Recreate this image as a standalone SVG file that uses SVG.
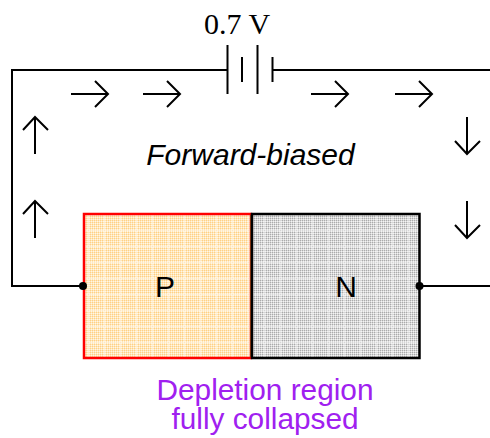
<svg xmlns="http://www.w3.org/2000/svg" width="490" height="438" viewBox="0 0 490 438">
<style>
.w{fill:none;stroke:#000;stroke-width:2}
.a{fill:none;stroke:#000;stroke-width:2}
.s{font-family:"Liberation Sans",Arial,sans-serif}
.l{font-size:30px;text-anchor:middle;fill:#000}
.p{font-size:29.8px;text-anchor:middle;fill:#a020f0}
</style>
<defs>
<pattern id="dot-o" x="0" y="0" width="2" height="2" patternUnits="userSpaceOnUse">
<rect width="2" height="2" fill="#ffe6b8"/>
<rect x="1" y="1" width="1" height="1" fill="#fff6e6"/>
<rect width="1" height="1" fill="#ffd085"/>
</pattern>
<pattern id="dot-n" x="0" y="0" width="2" height="2" patternUnits="userSpaceOnUse">
<rect width="2" height="2" fill="#d8d8d8"/>
<rect x="1" y="1" width="1" height="1" fill="#f4f4f4"/>
<rect width="1" height="1" fill="#ababab"/>
</pattern>
<pattern id="po" x="104" y="230" width="16" height="16" patternUnits="userSpaceOnUse">
<rect width="16" height="16" fill="url(#dot-o)"/>
<path d="M0 0h1v16h-1zM0 0h16v1h-16z" fill="#fff" fill-opacity=".5"/>
</pattern>
<pattern id="pn" x="104" y="230" width="16" height="16" patternUnits="userSpaceOnUse">
<rect width="16" height="16" fill="url(#dot-n)"/>
<path d="M0 0h1v16h-1zM0 0h16v1h-16z" fill="#fff" fill-opacity=".5"/>
</pattern>
</defs>
<g id="connectors">
<path class="w" d="M228 70H12V286H83"/>
<path class="w" d="M272 70H490"/>
<path class="w" d="M420 286H490"/>
</g>
<g id="battery">
<path class="w" d="M227.500 45V94M242 57V82M257.500 45V94M272.500 57V82"/>
<text class="l" x="237" y="34" style="font-family:'Liberation Serif',serif">0.7 V</text>
</g>
<g id="arrows">
<path class="a" d="M71 94H108M95 81L108 94L95 107"/>
<path class="a" d="M143 94H180M167 81L180 94L167 107"/>
<path class="a" d="M311 94H348M335 81L348 94L335 107"/>
<path class="a" d="M395 94H432M419 81L432 94L419 107"/>
<path class="a" d="M35 154V117M23 130L35 117L48 130"/>
<path class="a" d="M35 238V201M23 214L35 201L48 214"/>
<path class="a" d="M467 117V154M455 141L467 154L480 141"/>
<path class="a" d="M467 201V238M455 225L467 238L480 225"/>
</g>
<text id="caption" class="s" x="250.500" y="165" font-size="30" font-style="italic" text-anchor="middle">Forward-biased</text>
<g id="p-region">
<rect x="84" y="214" width="167" height="144" fill="url(#po)" stroke="#f00" stroke-width="2.500"/>
<text class="s l" x="165" y="297">P</text>
</g>
<g id="n-region">
<rect x="252" y="214" width="167.500" height="144" fill="url(#pn)" stroke="#000" stroke-width="2.500"/>
<path d="M250.500 215V357" stroke="#7a3010" stroke-width="1" fill="none"/>
<text class="s l" x="346" y="297">N</text>
</g>
<g id="terminals">
<circle cx="83" cy="286" r="4"/>
<circle cx="419.500" cy="286" r="4"/>
</g>
<text id="depletion" class="s p" x="265" y="400">Depletion region</text>
<text id="depletion-2" class="s p" x="265" y="429">fully collapsed</text>
</svg>
